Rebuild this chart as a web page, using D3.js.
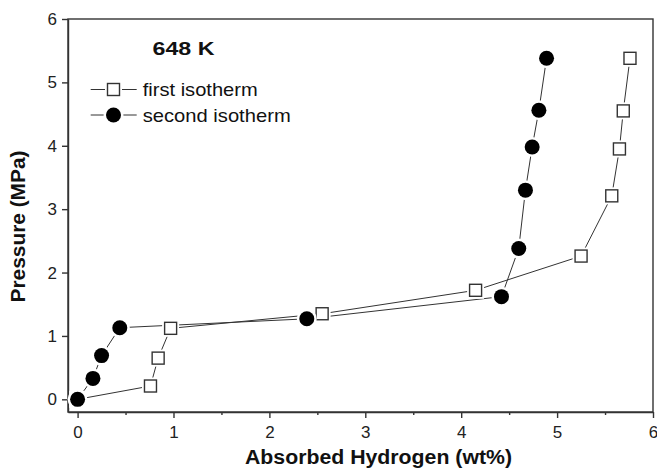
<!DOCTYPE html>
<html>
<head>
<meta charset="utf-8">
<script src="https://cdn.jsdelivr.net/npm/d3@7"></script>
<style>
  body { margin: 0; background: #fff; }
  svg { display: block; font-family: "Liberation Sans", Arial, sans-serif; }
  .axis text { font-size: 17px; fill: #222; }
  .axis path, .axis line { stroke: #333; stroke-width: 1.4; }
</style>
</head>
<body>
<script>
// first isotherm (open squares)
const FIRST_X = [0, 0.76, 0.84, 0.97, 2.55, 4.15, 5.25, 5.57, 5.65, 5.69, 5.76];
const FIRST_Y = [0, 0.21, 0.65, 1.12, 1.35, 1.72, 2.26, 3.21, 3.95, 4.55, 5.38];
// second isotherm (filled circles)
const SECOND_X = [0, 0.16, 0.25, 0.44, 2.39, 4.42, 4.60, 4.67, 4.74, 4.81, 4.89];
const SECOND_Y = [0, 0.33, 0.69, 1.13, 1.27, 1.62, 2.38, 3.30, 3.98, 4.56, 5.38];

const X_TICKS = [0, 1, 2, 3, 4, 5, 6];
const X_MINOR = [0.5, 1.5, 2.5, 3.5, 4.5, 5.5];
const Y_TICKS = [0, 1, 2, 3, 4, 5, 6];
const SERIES_NAMES = ["first isotherm", "second isotherm"];
const TITLE = "648 K";

const W = 657, H = 469;
const margin = {left: 68, top: 19, right: 4, bottom: 57};
const LINE_COLOR = "#333";

const svg = d3.select("body").append("svg")
    .attr("width", W)
    .attr("height", H);

const x = d3.scaleLinear().domain([-0.1, 6]).range([margin.left, W - margin.right]);
const y = d3.scaleLinear().domain([-0.2, 6]).range([H - margin.bottom, margin.top]);

// frame (top + right)
svg.append("rect")
    .attr("x", x.range()[0])
    .attr("y", y.range()[1])
    .attr("width", x.range()[1] - x.range()[0])
    .attr("height", y.range()[0] - y.range()[1])
    .attr("fill", "none")
    .attr("stroke", LINE_COLOR)
    .attr("stroke-width", 1.4);

// minor x ticks
svg.append("g")
    .attr("class", "axis")
    .attr("transform", "translate(0," + y.range()[0] + ")")
    .call(d3.axisBottom(x).tickValues(X_MINOR).tickSize(3).tickSizeOuter(0).tickFormat(""))
    .call(g => g.select(".domain").remove());

// x axis
svg.append("g")
    .attr("class", "axis")
    .attr("transform", "translate(0," + y.range()[0] + ")")
    .call(d3.axisBottom(x).tickValues(X_TICKS).tickSize(6).tickSizeOuter(0).tickPadding(8).tickFormat(d3.format("d")));

// y axis
svg.append("g")
    .attr("class", "axis")
    .attr("transform", "translate(" + x.range()[0] + ",0)")
    .call(d3.axisLeft(y).tickValues(Y_TICKS).tickSize(6).tickSizeOuter(0).tickPadding(5).tickFormat(d3.format("d")));

// axis titles
svg.append("text")
    .attr("x", (245 + 512) / 2)
    .attr("y", 464)
    .attr("text-anchor", "middle")
    .attr("font-weight", "bold")
    .attr("font-size", 20)
    .attr("textLength", 267)
    .attr("lengthAdjust", "spacingAndGlyphs")
    .attr("fill", "#111")
    .text("Absorbed Hydrogen (wt%)");

svg.append("text")
    .attr("transform", "translate(25," + 226.5 + ") rotate(-90)")
    .attr("text-anchor", "middle")
    .attr("font-weight", "bold")
    .attr("font-size", 20)
    .attr("textLength", 152)
    .attr("lengthAdjust", "spacingAndGlyphs")
    .attr("fill", "#111")
    .text("Pressure (MPa)");

// title
svg.append("text")
    .attr("x", 152.5)
    .attr("y", 55)
    .attr("font-weight", "bold")
    .attr("font-size", 19)
    .attr("textLength", 62)
    .attr("lengthAdjust", "spacingAndGlyphs")
    .attr("fill", "#111")
    .text(TITLE);

const SQ = 12, R = 7.5;

function drawSquare(g, cx, cy) {
    g.append("rect")
        .attr("x", cx - SQ / 2 - 2.5).attr("y", cy - SQ / 2 - 2.5)
        .attr("width", SQ + 5).attr("height", SQ + 5)
        .attr("fill", "#fff");
    g.append("rect")
        .attr("x", cx - SQ / 2).attr("y", cy - SQ / 2)
        .attr("width", SQ).attr("height", SQ)
        .attr("fill", "#fff")
        .attr("stroke", LINE_COLOR)
        .attr("stroke-width", 1.4);
}
function drawCircle(g, cx, cy) {
    g.append("circle").attr("cx", cx).attr("cy", cy).attr("r", R + 2.5).attr("fill", "#fff");
    g.append("circle").attr("cx", cx).attr("cy", cy).attr("r", R).attr("fill", "#000");
}

const line = d3.line().x(d => x(d[0])).y(d => y(d[1]));
const first = FIRST_X.map((v, i) => [v, FIRST_Y[i]]);
const second = SECOND_X.map((v, i) => [v, SECOND_Y[i]]);

const plot = svg.append("g");
plot.append("path").datum(first).attr("d", line)
    .attr("fill", "none").attr("stroke", LINE_COLOR).attr("stroke-width", 1);
plot.append("path").datum(second).attr("d", line)
    .attr("fill", "none").attr("stroke", LINE_COLOR).attr("stroke-width", 1);

const m1 = plot.append("g");
first.forEach(d => drawSquare(m1, x(d[0]), y(d[1])));
const m2 = plot.append("g");
second.forEach(d => drawCircle(m2, x(d[0]), y(d[1])));

// legend
const legend = svg.append("g");
const legRows = [89.5, 115];
const legX0 = 90.7, legX1 = 136.7, legMid = 113.5;
SERIES_NAMES.forEach((name, i) => {
    const ly = legRows[i];
    legend.append("line")
        .attr("x1", legX0).attr("x2", legX1)
        .attr("y1", ly).attr("y2", ly)
        .attr("stroke", LINE_COLOR).attr("stroke-width", 1);
    if (i === 0) drawSquare(legend, legMid, ly); else drawCircle(legend, legMid, ly);
    legend.append("text")
        .attr("x", 142.7)
        .attr("y", ly + 6.5)
        .attr("font-size", 19)
        .attr("textLength", i === 0 ? 115 : 148)
        .attr("lengthAdjust", "spacingAndGlyphs")
        .attr("fill", "#111")
        .text(name);
});
</script>
</body>
</html>
